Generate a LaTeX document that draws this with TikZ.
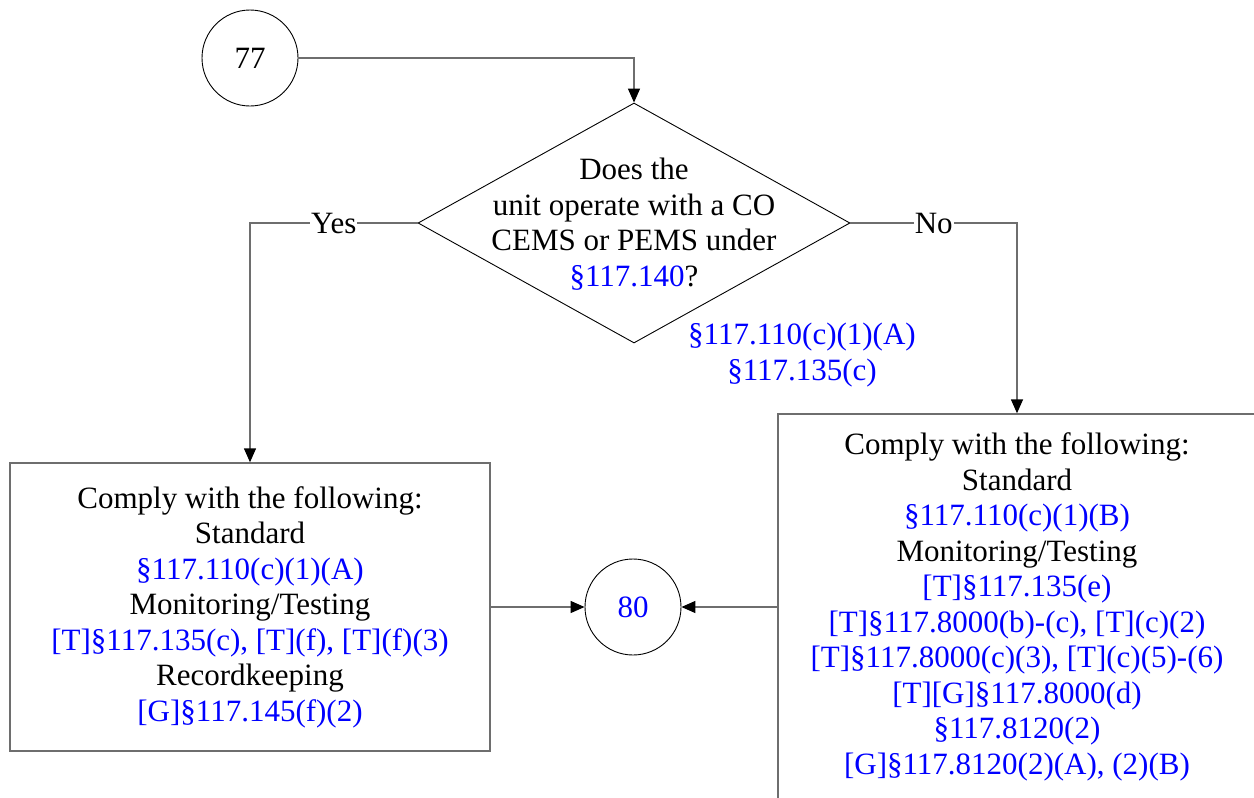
\documentclass[tikz,border=0pt]{standalone}
\usepackage{fontspec}
\setmainfont{Liberation Serif}
\usetikzlibrary{shapes.geometric,arrows.meta}
\definecolor{refblue}{RGB}{0,0,255}
\definecolor{linegray}{RGB}{110,110,110}
\tikzset{
  every node/.style={font=\fontsize{31pt}{35.5pt}\selectfont},
  conn/.style={draw=linegray, line width=1.4pt, -{Triangle[length=14pt,width=12pt,color=black]}},
  boxnode/.style={draw=linegray, line width=1.4pt, rectangle, align=center, inner sep=0pt},
  circ/.style={draw=black, line width=0.9pt, circle, minimum size=96pt, inner sep=0pt},
  lbl/.style={fill=white, inner sep=1pt},
  ref/.style={text=refblue}
}
\begin{document}
\begin{tikzpicture}[x=1pt,y=-1pt]
\useasboundingbox (0,0) rectangle (1254,798);
\clip (0,0) rectangle (1254,798);
\node[circ] (c77) at (250,58) {77};
\node[diamond, draw=black, line width=0.9pt, minimum width=432pt, minimum height=240pt, inner sep=0pt] (d) at (634,223) {};
\node[align=center] (dq) at (634,224) {Does the\\unit operate with a CO\\CEMS or PEMS under\\{\color{refblue}§117.140}?};
\node[align=center, ref] (dref) at (802,355) {§117.110(c)(1)(A)\\§117.135(c)};
\node[boxnode, minimum width=480pt, minimum height=288pt] (lb) at (250,607) {Comply with the following:\\Standard\\{\color{refblue}§117.110(c)(1)(A)}\\Monitoring/Testing\\{\color{refblue}[T]§117.135(c), [T](f), [T](f)(3)}\\Recordkeeping\\{\color{refblue}[G]§117.145(f)(2)}};
\node[boxnode, minimum width=478pt, minimum height=386pt] (rb) at (1017,607) {Comply with the following:\\Standard\\{\color{refblue}§117.110(c)(1)(B)}\\Monitoring/Testing\\{\color{refblue}[T]§117.135(e)}\\{\color{refblue}[T]§117.8000(b)-(c), [T](c)(2)}\\{\color{refblue}[T]§117.8000(c)(3), [T](c)(5)-(6)}\\{\color{refblue}[T][G]§117.8000(d)}\\{\color{refblue}§117.8120(2)}\\{\color{refblue}[G]§117.8120(2)(A), (2)(B)}};
\node[circ, text=refblue] (c80) at (633,607) {80};
\draw[conn] (c77.east) -| (d.north);
\draw[conn] (d.west) -| node[lbl, pos=0.25] {Yes} (lb.north);
\draw[conn] (d.east) -| node[lbl, pos=0.25] {No} (rb.north);
\draw[conn] (lb.east) -- (c80.west);
\draw[conn] (rb.west) -- (c80.east);
\end{tikzpicture}
\end{document}
